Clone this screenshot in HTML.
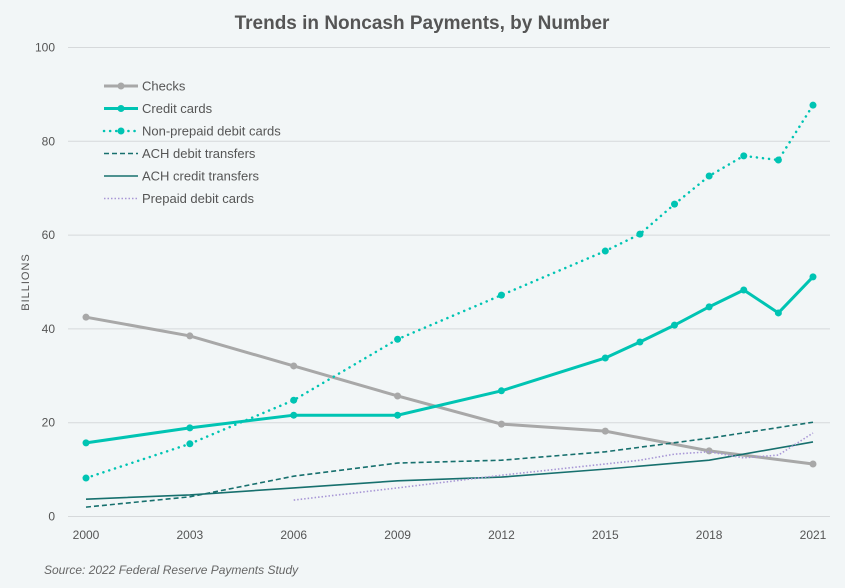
<!DOCTYPE html>
<html><head><meta charset="utf-8"><style>
body{margin:0;background:#f2f6f7;font-family:"Liberation Sans",sans-serif}
svg{display:block}
</style></head><body>
<svg id="chart" width="845" height="588" xmlns="http://www.w3.org/2000/svg">
<rect width="845" height="588" fill="#f2f6f7"/>
<text x="422" y="29" text-anchor="middle" font-size="19" font-weight="bold" fill="#555">Trends in Noncash Payments, by Number</text>
<text transform="translate(29,282) rotate(-90)" text-anchor="middle" font-size="11" fill="#555" letter-spacing="1">BILLIONS</text>
<text x="44" y="574" font-size="12" font-style="italic" fill="#666">Source: 2022 Federal Reserve Payments Study</text>
<g id="grid"></g><g id="series"></g><g id="legend"></g>
</svg>
<script>
const years=[2000,2003,2006,2009,2012,2015,2016,2017,2018,2019,2020,2021];
const xTicks=[2000,2003,2006,2009,2012,2015,2018,2021];
const yTicks=[0,20,40,60,80,100];
const checksX=[2000,2003,2006,2009,2012,2015,2018,2021];
const checks=[42.5,38.5,32.1,25.7,19.7,18.2,14.0,11.2];
const creditCards=[15.7,18.9,21.6,21.6,26.8,33.8,37.2,40.8,44.7,48.3,43.4,51.1];
const nonPrepaidDebit=[8.2,15.5,24.8,37.8,47.2,56.6,60.2,66.6,72.6,76.9,76.0,87.7];
const achX=[2000,2003,2006,2009,2012,2015,2018,2021];
const achDebit=[2.0,4.2,8.6,11.4,12.0,13.8,16.7,20.1];
const achCredit=[3.7,4.6,6.1,7.6,8.4,10.1,12.0,15.9];
const prepaidX=[2006,2009,2012,2015,2016,2017,2018,2019,2020,2021];
const prepaidDebit=[3.5,6.1,8.8,11.2,12.0,13.3,13.8,12.5,13.1,17.8];

const NS="http://www.w3.org/2000/svg";
const x=v=>86+(v-2000)*(813-86)/21;
const y=v=>516.5-v*4.69;
function mk(t,a,p){const e=document.createElementNS(NS,t);for(const k in a)e.setAttribute(k,a[k]);p.appendChild(e);return e;}
const grid=document.getElementById('grid');
yTicks.forEach(t=>{
 const l=mk('line',{x1:68,x2:830,y1:y(t),y2:y(t),stroke:'#d6d9db','stroke-width':1},grid);
 
 
 const tx=mk('text',{x:55,y:y(t)+4,'text-anchor':'end','font-size':12,fill:'#555'},grid);
 tx.textContent=t;
 
 
});
xTicks.forEach(t=>{
 const tx=mk('text',{x:x(t),y:539,'text-anchor':'middle','font-size':12,fill:'#555'},grid);
 tx.textContent=t;
 
 
});
const sg=document.getElementById('series');
function series(name,xs,vs,st){
 const d=xs.map((v,i)=>(i?'L':'M')+x(v)+','+y(vs[i])).join(' ');
 const p=mk('path',{d:d,fill:'none',stroke:st.c,'stroke-width':st.w,'stroke-dasharray':st.dash||'none','stroke-linecap':st.cap||'butt'},sg);
 
 
 if(st.dot)xs.forEach((v,i)=>{
  const c=mk('circle',{cx:x(v),cy:y(vs[i]),r:st.dot,fill:st.c},sg);
  
  
 });
}
const styles={
 checks:{c:'#a8a8a8',w:3,dot:3.5},
 credit:{c:'#00c4b3',w:3,dot:3.5},
 nonprepaid:{c:'#00c4b3',w:2.5,dash:'0.1 6',cap:'round',dot:3.5},
 achdebit:{c:'#17706e',w:1.6,dash:'5 3'},
 achcredit:{c:'#17706e',w:1.6},
 prepaid:{c:'#a897d6',w:1.6,dash:'1.5 2'}
};
series('checks',checksX,checks,styles.checks);
series('credit-cards',years,creditCards,styles.credit);
series('non-prepaid-debit-cards',years,nonPrepaidDebit,styles.nonprepaid);
series('ach-debit-transfers',achX,achDebit,styles.achdebit);
series('ach-credit-transfers',achX,achCredit,styles.achcredit);
series('prepaid-debit-cards',prepaidX,prepaidDebit,styles.prepaid);
const lg=document.getElementById('legend');
const labels=['Checks','Credit cards','Non-prepaid debit cards','ACH debit transfers','ACH credit transfers','Prepaid debit cards'];
const lst=[styles.checks,styles.credit,styles.nonprepaid,styles.achdebit,styles.achcredit,styles.prepaid];
labels.forEach((lab,i)=>{
 const yy=86+i*22.5, st=lst[i];
 const g=mk('g',{},lg);
 
 
 mk('line',{x1:104,x2:138,y1:yy,y2:yy,stroke:st.c,'stroke-width':st.w,'stroke-dasharray':st.dash||'none','stroke-linecap':st.cap||'butt'},g);
 if(st.dot)mk('circle',{cx:121,cy:yy,r:3.5,fill:st.c},g);
 const t=mk('text',{x:142,y:yy+4.5,'font-size':13,fill:'#555'},g);
 t.textContent=lab;
});
</script>
</body></html>
